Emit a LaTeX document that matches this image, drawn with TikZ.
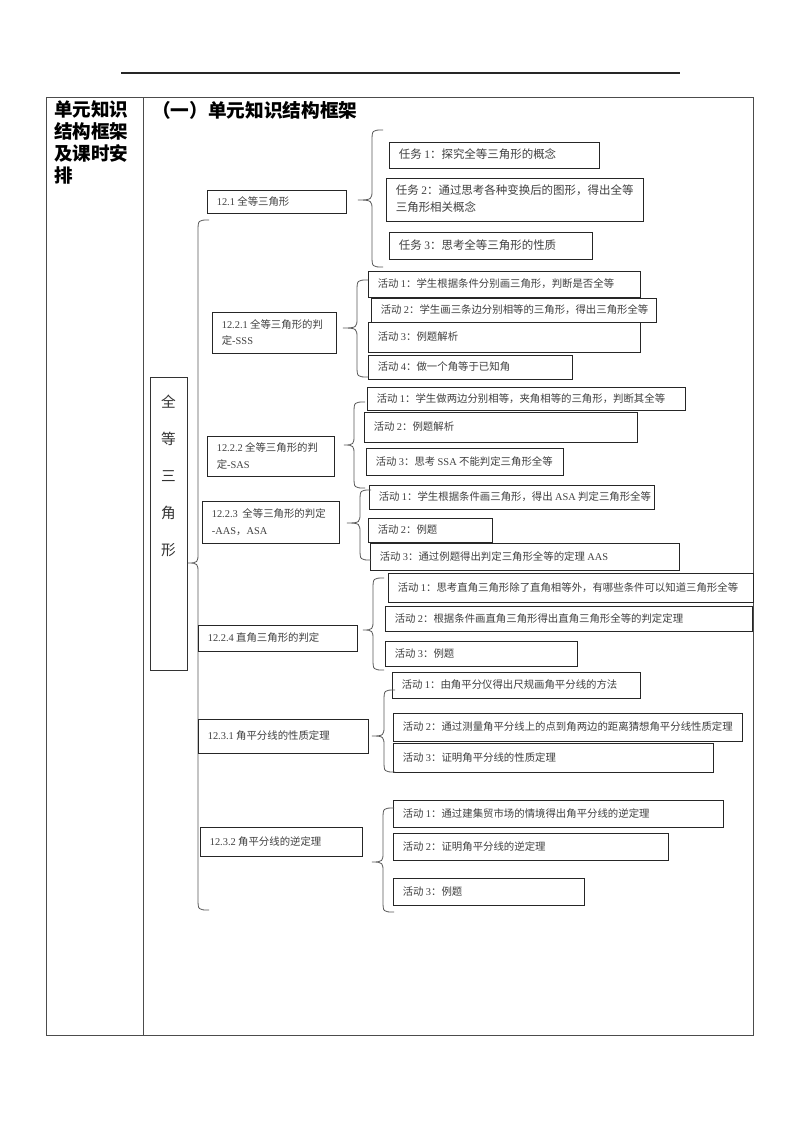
\documentclass[tikz,border=0pt]{standalone}
\usepackage{fontspec}
\setmainfont{Noto Sans CJK SC}
\newfontfamily\tnrfont{Liberation Serif}
\newcommand\tnr[1]{{\tnrfont #1}}
\begin{document}
\begin{tikzpicture}[x=0.75pt,y=-0.75pt]
\def\bxfont{\fontsize{7.8}{12.5}\selectfont}
\tikzset{
  box/.style={draw=black!85, line width=0.75pt, inner sep=0pt, anchor=north west,
              font=\bxfont, text=black!75},
  bracepath/.style={draw=black!65, line width=0.6pt},
  tableline/.style={draw=black!70, line width=0.6pt}
}
\newcommand\bx[6]{%
  \pgfmathsetmacro\bw{(#4-#2)*0.75}%
  \pgfmathsetmacro\bh{(#5-#3)*0.75}%
  \node[box, minimum width=\bw pt, minimum height=\bh pt] (#1) at (#2,#3)
    {\makebox[\bw pt][l]{\hspace*{7pt}\begin{tabular}{@{}l@{}}#6\end{tabular}}};}
% brace: spine x, top y, bottom y, tip x, tip y
\newcommand\brc[5]{%
  \draw[bracepath] (#1+11,#2) .. controls (#1,#2) and (#1,#2) .. (#1,#2+12)
    -- (#1,#5-10) .. controls (#1,#5-1) and (#1,#5) .. (#4,#5)
    .. controls (#1,#5) and (#1,#5+1) .. (#1,#5+10)
    -- (#1,#3-12) .. controls (#1,#3) and (#1,#3) .. (#1+11,#3);}
\useasboundingbox (0,0) rectangle (800,1132);
\fill[white] (0,0) rectangle (800,1132);

% top rule and table
\draw[line width=1.1pt, black!85] (121,73) -- (680,73);
\draw[tableline] (46,97) rectangle (753,1035);
\draw[tableline] (143,97) -- (143,1035);

\node[anchor=north west, inner sep=0pt, font=\bfseries\fontsize{13.9}{16.5}\selectfont, align=left]
  (lefthead) at (54,100) {单元知识\\结构框架\\及课时安\\排};
\node[anchor=west, inner sep=0pt, font=\bfseries\fontsize{14}{16}\selectfont]
  (head) at (152,110) {（一）单元知识结构框架};

% 12.1
\bx{n121}{207}{190}{346}{213}{\tnr{12.1}~全等三角形}
\def\bxfont{\fontsize{8.6}{12.8}\selectfont}
\bx{r1}{389}{142}{599}{168}{任务~\tnr{1}：探究全等三角形的概念}
\bx{r2}{386}{178}{643}{221}{任务~\tnr{2}：通过思考各种变换后的图形，得出全等\\三角形相关概念}
\bx{r3}{389}{232}{592}{259}{任务~\tnr{3}：思考全等三角形的性质}
\def\bxfont{\fontsize{7.8}{12.5}\selectfont}
\brc{372}{130}{267}{358}{200}

% big brace and 全等三角形
\node[draw=black!80, line width=0.75pt, minimum width=27.75pt, minimum height=219.75pt,
      anchor=north west, inner sep=0pt] (zq) at (150,377) {};
\node[inner sep=0pt, align=center, font=\fontsize{11}{27.75}\selectfont, text=black!80]
  (zqt) at (168.5,476) {全\\等\\三\\角\\形};
\brc{198}{220}{910}{188}{563}

% 12.2.1
\bx{n221}{212}{312}{336}{353}{\tnr{12.2.1}~全等三角形的判\\定\tnr{-SSS}}
\bx{a211}{368}{271}{640}{297}{活动~\tnr{1}：学生根据条件分别画三角形，判断是否全等}
\bx{a213}{368}{322}{640}{352}{活动~\tnr{3}：例题解析}
\bx{a212}{371}{298}{656}{322}{活动~\tnr{2}：学生画三条边分别相等的三角形，得出三角形全等}
\bx{a214}{368}{355}{572}{379}{活动~\tnr{4}：做一个角等于已知角}
\brc{357}{280}{377}{343}{328}

% 12.2.2
\bx{n222}{207}{436}{334}{476}{\tnr{12.2.2}~全等三角形的判\\定\tnr{-SAS}}
\bx{a221}{367}{387}{685}{410}{活动~\tnr{1}：学生做两边分别相等，夹角相等的三角形，判断其全等}
\bx{a222}{364}{412}{637}{442}{活动~\tnr{2}：例题解析}
\bx{a223}{366}{448}{563}{475}{活动~\tnr{3}：思考~\tnr{SSA}~不能判定三角形全等}
\brc{354}{402}{488}{344}{445}

% 12.2.3
\bx{n223}{202}{501}{339}{543}{\tnr{12.2.3}~~全等三角形的判定\\\tnr{-AAS}，\tnr{ASA}}
\bx{a231}{369}{485}{654}{509}{活动~\tnr{1}：学生根据条件画三角形，得出~\tnr{ASA}~判定三角形全等}
\bx{a232}{368}{518}{492}{542}{活动~\tnr{2}：例题}
\bx{a233}{370}{543}{679}{570}{活动~\tnr{3}：通过例题得出判定三角形全等的定理~\tnr{AAS}}
\brc{360}{490}{560}{347}{523}

% 12.2.4
\bx{n224}{198}{625}{357}{651}{\tnr{12.2.4}~直角三角形的判定}
\bx{a241}{388}{573}{753}{602}{活动~\tnr{1}：思考直角三角形除了直角相等外，有哪些条件可以知道三角形全等}
\bx{a242}{385}{606}{752}{631}{活动~\tnr{2}：根据条件画直角三角形得出直角三角形全等的判定定理}
\bx{a243}{385}{641}{577}{666}{活动~\tnr{3}：例题}
\brc{373}{578}{670}{363}{630}

% 12.3.1
\bx{n231}{198}{719}{368}{753}{\tnr{12.3.1}~角平分线的性质定理}
\bx{a311}{392}{672}{640}{698}{活动~\tnr{1}：由角平分仪得出尺规画角平分线的方法}
\bx{a312}{393}{713}{742}{741}{活动~\tnr{2}：通过测量角平分线上的点到角两边的距离猜想角平分线性质定理}
\bx{a313}{393}{743}{713}{772}{活动~\tnr{3}：证明角平分线的性质定理}
\brc{384}{690}{772}{372}{736}

% 12.3.2
\bx{n232}{200}{827}{362}{856}{\tnr{12.3.2}~角平分线的逆定理}
\bx{a321}{393}{800}{723}{827}{活动~\tnr{1}：通过建集贸市场的情境得出角平分线的逆定理}
\bx{a322}{393}{833}{668}{860}{活动~\tnr{2}：证明角平分线的逆定理}
\bx{a323}{393}{878}{584}{905}{活动~\tnr{3}：例题}
\brc{383}{808}{912}{372}{862}
\end{tikzpicture}
\end{document}
